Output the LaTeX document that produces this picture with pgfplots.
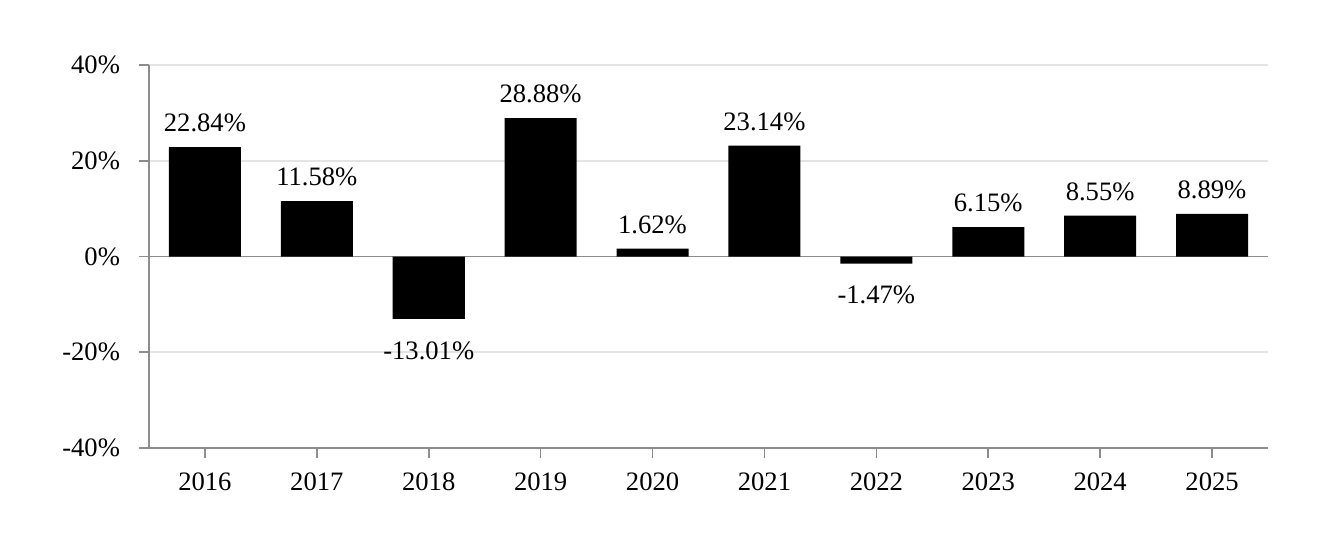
\documentclass[border=0pt]{standalone}
\usepackage{pgfplots}
\pgfplotsset{compat=1.18}
\usepackage{fontspec}
\setmainfont{Liberation Serif}
\definecolor{axgray}{HTML}{8C8C8C}
\definecolor{gridgray}{HTML}{E4E4E4}
\begin{document}
\fontsize{13pt}{15pt}\selectfont
\begin{tikzpicture}
\useasboundingbox (-74.5pt,-56pt) rectangle (591.5pt,224pt);
\begin{axis}[
  at={(0,0)}, anchor=south west,
  scale only axis, width=559.5pt, height=191.5pt,
  xmin=-0.5, xmax=9.5, ymin=-40, ymax=40,
  axis x line*=bottom, axis y line*=left,
  axis line style={axgray, line width=0.8pt, -},
  xtick={0,...,9},
  xticklabels={2016,2017,2018,2019,2020,2021,2022,2023,2024,2025},
  ytick={-40,-20,0,20,40},
  yticklabels={-40\%,-20\%,0\%,20\%,40\%},
  tick align=outside, major tick length=5pt,
  tick style={axgray, line width=0.8pt},
  ymajorgrids, grid style={gridgray, line width=0.8pt},
  xticklabel style={font=\fontsize{13.3pt}{15pt}\selectfont, yshift=-3pt},
  yticklabel style={font=\fontsize{13.3pt}{15pt}\selectfont, xshift=-5pt},
  ybar, bar width=36pt,
  point meta=y,
  nodes near coords={\pgfmathprintnumber[fixed,fixed zerofill,precision=2,assume math mode=true]{\pgfplotspointmeta}\%},
  nodes near coords align=vertical,
  nodes near coords style={font=\fontsize{13.3pt}{15pt}\selectfont, inner ysep=7.5pt, text height=12.5pt, text depth=0pt, black},
  clip=false,
]
\draw[axgray, line width=0.8pt] (axis cs:-0.5,0) -- (axis cs:9.5,0);
\addplot[fill=black, draw=none] coordinates {
  (0,22.84)
  (1,11.58)
  (2,-13.01)
  (3,28.88)
  (4,1.62)
  (5,23.14)
  (6,-1.47)
  (7,6.15)
  (8,8.55)
  (9,8.89)
};
\end{axis}
\end{tikzpicture}
\end{document}
